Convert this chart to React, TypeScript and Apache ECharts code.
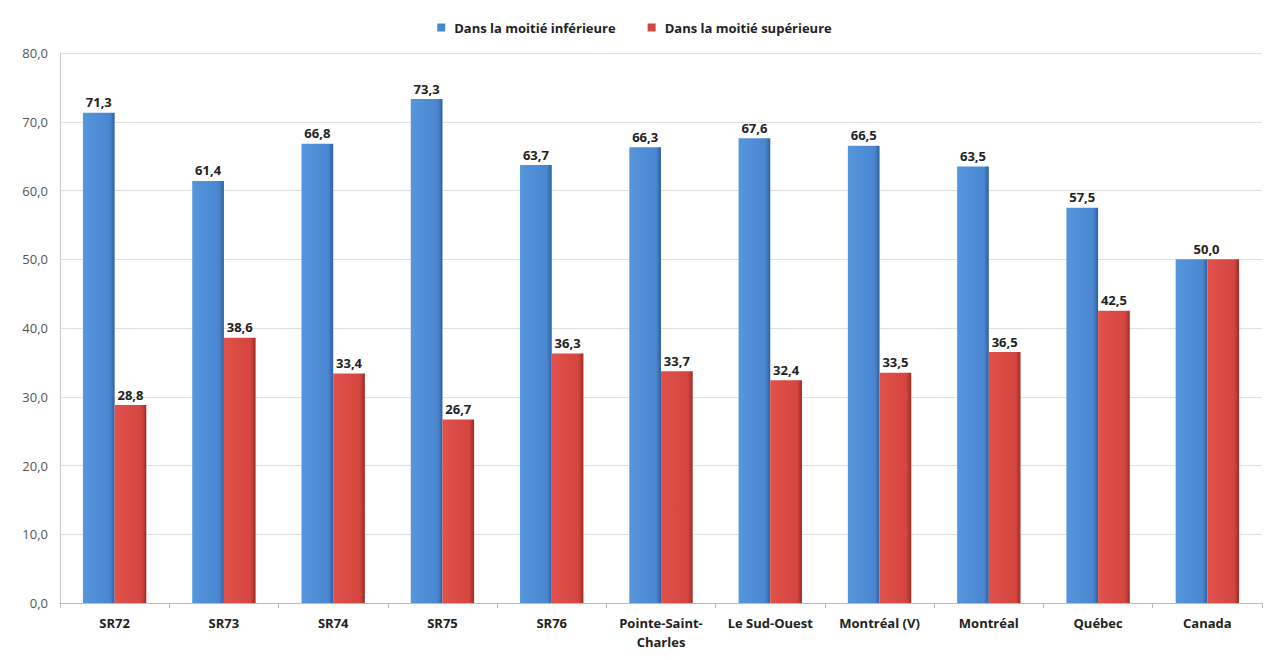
import React, { useEffect, useRef } from "react";
import * as echarts from "echarts";

const categories = ["SR72", "SR73", "SR74", "SR75", "SR76", "Pointe-Saint-\nCharles", "Le Sud-Ouest", "Montréal (V)", "Montréal", "Québec", "Canada"];
const lowerHalf = [71.3, 61.4, 66.8, 73.3, 63.7, 66.3, 67.6, 66.5, 63.5, 57.5, 50.0];
const upperHalf = [28.8, 38.6, 33.4, 26.7, 36.3, 33.7, 32.4, 33.5, 36.5, 42.5, 50.0];
const seriesNames = ["Dans la moitié inférieure", "Dans la moitié supérieure"];

const FONT = "'Open Sans', 'Noto Sans', sans-serif";
const fmt = (v: number) => v.toFixed(1).replace(".", ",");

export default function App() {
  const ref = useRef<HTMLDivElement>(null);
  useEffect(() => {
    if (!ref.current) return;
    const chart = echarts.init(ref.current, null, { renderer: "svg" });
    const blue = new echarts.graphic.LinearGradient(0, 0, 1, 0, [
      { offset: 0, color: "#5596dc" },
      { offset: 0.85, color: "#4a86d0" },
      { offset: 1, color: "#2f5f9e" },
    ]);
    const red = new echarts.graphic.LinearGradient(0, 0, 1, 0, [
      { offset: 0, color: "#e2524c" },
      { offset: 0.85, color: "#d4453f" },
      { offset: 1, color: "#9e2b27" },
    ]);
    const lastIdx = categories.length - 1;
    const labelStyle = {
      show: true,
      position: "top",
      distance: 4,
      fontFamily: FONT,
      fontWeight: "bold",
      fontSize: 13,
      color: "#222",
      formatter: (p: any) => fmt(p.value),
    };
    chart.setOption({
      animation: false,
      legend: {
        top: 16,
        left: "center",
        itemWidth: 8,
        itemHeight: 8,
        itemGap: 32,
        icon: "rect",
        textStyle: { fontFamily: FONT, fontWeight: "bold", fontSize: 13, color: "#222", padding: [0, 0, 0, 4] },
        data: [
          { name: seriesNames[0], itemStyle: { color: "#4a86d0" } },
          { name: seriesNames[1], itemStyle: { color: "#d4453f" } },
        ],
      },
      grid: { left: 60, right: 7, top: 53, bottom: 57, containLabel: false },
      xAxis: {
        type: "category",
        data: categories,
        axisLine: { lineStyle: { color: "#bbb" } },
        axisTick: { show: true, length: 5, lineStyle: { color: "#bbb" } },
        axisLabel: {
          fontFamily: FONT,
          fontWeight: "bold",
          fontSize: 13,
          color: "#222",
          margin: 10,
          lineHeight: 19,
          interval: 0,
        },
      },
      yAxis: {
        type: "value",
        min: 0,
        max: 80,
        interval: 10,
        axisLine: { show: true, lineStyle: { color: "#ccc" } },
        axisTick: { show: false },
        splitLine: { lineStyle: { color: "#e0e0e0" } },
        axisLabel: {
          fontFamily: FONT,
          fontSize: 13,
          color: "#555",
          margin: 12,
          formatter: (v: number) => fmt(v),
        },
      },
      series: [
        {
          name: seriesNames[0],
          type: "bar",
          data: lowerHalf.map((v, i) =>
            i === lastIdx ? { value: v, label: { offset: [15, 0] } } : v
          ),
          itemStyle: { color: blue },
          barGap: "0%",
          barCategoryGap: "42%",
          label: labelStyle,
        },
        {
          name: seriesNames[1],
          type: "bar",
          data: upperHalf.map((v, i) =>
            i === lastIdx ? { value: v, label: { show: false } } : v
          ),
          itemStyle: { color: red },
          label: labelStyle,
        },
      ],
    });
    return () => chart.dispose();
  }, []);
  return (
    <div
      ref={ref}
      style={{ position: "fixed", left: 0, top: 0, width: 1269, height: 660, background: "#fff" }}
    />
  );
}
